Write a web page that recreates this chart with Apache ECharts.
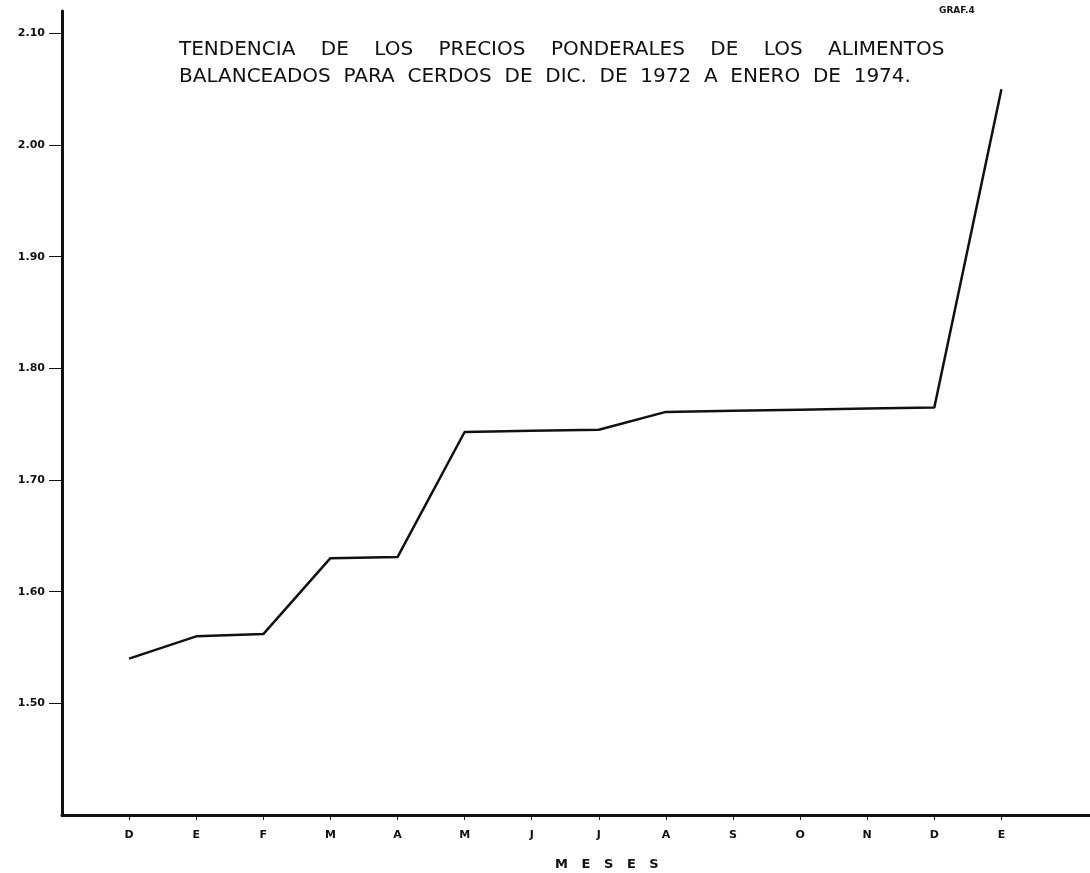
<!DOCTYPE html>
<html>
<head>
<meta charset="utf-8">
<script src="https://cdn.jsdelivr.net/npm/echarts@6/dist/echarts.min.js"></script>
<style>html,body{margin:0;padding:0;background:#fff;}#c{width:1090px;height:873px;}</style>
</head>
<body>
<div id="c"></div>
<script>
var months = ['D', 'E', 'F', 'M', 'A', 'M', 'J', 'J', 'A', 'S', 'O', 'N', 'D', 'E'];
var prices = [1.540, 1.560, 1.562, 1.630, 1.631, 1.743, 1.744, 1.745, 1.761, 1.762, 1.763, 1.764, 1.765, 2.050];
var yTicks = [1.50, 1.60, 1.70, 1.80, 1.90, 2.00, 2.10];
var monthIdx = months.map(function (m, i) { return i; });

var chart = echarts.init(document.getElementById('c'));
var FONT = 'DejaVu Sans';
chart.setOption({
  backgroundColor: '#ffffff',
  animation: false,
  title: [
    {
      text: 'TENDENCIA    DE    LOS    PRECIOS    PONDERALES    DE    LOS    ALIMENTOS\nBALANCEADOS  PARA  CERDOS  DE  DIC.  DE  1972  A  ENERO  DE  1974.',
      left: 174, top: 31,
      textStyle: { fontFamily: FONT, fontSize: 20, fontWeight: 'normal', color: '#111', lineHeight: 27 }
    },
    {
      text: 'GRAF.4',
      left: 934, top: 1,
      textStyle: { fontFamily: FONT, fontSize: 9, fontWeight: 'bold', color: '#111' }
    },
    {
      text: 'M   E   S   E   S',
      left: 550, top: 853,
      textStyle: { fontFamily: FONT, fontSize: 13, fontWeight: 'bold', color: '#111' }
    }
  ],
  grid: { left: 62, right: 0, top: 11, bottom: 58, containLabel: false },
  xAxis: {
    type: 'value',
    min: -1, max: 14.32,
    splitLine: { show: false },
    axisLine: { show: true, onZero: false, lineStyle: { color: '#111', width: 3 } },
    axisTick: { show: true, customValues: monthIdx, length: 5, lineStyle: { color: '#111', width: 1 } },
    axisLabel: {
      customValues: monthIdx,
      formatter: function (v) { return months[Math.round(v)] || ''; },
      fontFamily: FONT, fontSize: 11, fontWeight: 'bold', color: '#111', margin: 15
    }
  },
  yAxis: {
    type: 'value',
    min: 1.40, max: 2.12,
    splitLine: { show: false },
    axisLine: { show: true, onZero: false, lineStyle: { color: '#111', width: 3 } },
    axisTick: { show: true, customValues: yTicks, length: 13, lineStyle: { color: '#111', width: 1 } },
    axisLabel: {
      customValues: yTicks,
      formatter: function (v) { return v.toFixed(2); },
      fontFamily: FONT, fontSize: 11, fontWeight: 'bold', color: '#111', margin: 17
    }
  },
  series: [{
    type: 'line',
    data: prices.map(function (p, i) { return [monthIdx[i], p]; }),
    symbol: 'none',
    lineStyle: { color: '#111', width: 2.5 }
  }]
});
</script>
</body>
</html>
